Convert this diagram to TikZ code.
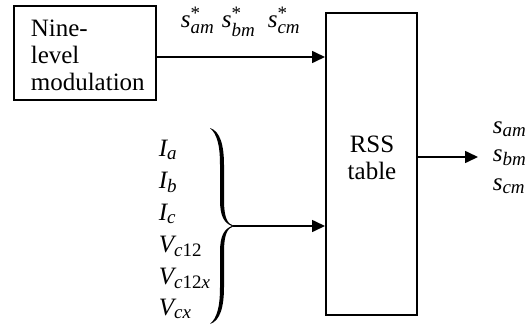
\documentclass[tikz,border=0pt]{standalone}
\usepackage{amsmath}
\usepackage{fontspec}
\setmainfont{Liberation Serif}
\usetikzlibrary{arrows.meta}
\DeclareMathSizes{12.5}{12.5}{9.5}{7.5}

\begin{document}
\begin{tikzpicture}[x=0.5pt,y=-0.5pt,line width=0.8pt,
  blk/.style={draw,line width=1pt,inner sep=0pt},
  txt/.style={inner sep=0pt,font=\fontsize{12.5}{13.5}\selectfont},
  sigarrow/.style={-{Triangle[length=6.5pt,width=6pt]}}]
\useasboundingbox (0,0) rectangle (528,326);
% ---- blocks ----
\node[blk,minimum width=71pt,minimum height=47pt] (mod) at (85,53) {};
\node[blk,minimum width=45.5pt,minimum height=151pt] (rss) at (371.5,164) {};
\node[txt,anchor=north west,align=left] (modtxt) at (30,19) {Nine-\\level\\modulation};
\node[txt,align=center] (rsstxt) at (372,158) {RSS\\table};
% ---- references from the modulator ----
\foreach \x/\p/\n in {180/a/sa, 221/b/sb, 267/c/sc}
  \node[txt,anchor=base west] (\n) at (\x,28) {$\textit{s}^{\text{*}}_{\textit{\p m}}$};
% ---- measured quantities ----
\foreach \y/\v/\s/\n in {
  156/I/{\textit{a}}/ia, 188/I/{\textit{b}}/ib, 220/I/{\textit{c}}/ic,
  252/V/{\textit{c}\textup{12}}/vc, 284/V/{\textit{c}\textup{12}\textit{x}}/vcx,
  315/V/{\textit{cx}}/vx%
}{
  \node[txt,anchor=base west] (\n) at (158,\y) {$\textit{\v}_{\s}$};
}
% ---- switching states ----
\foreach \y/\p/\n in {133/a/oa, 161/b/ob, 190/c/oc}
  \node[txt,anchor=base west] (\n) at (492,\y) {$\textit{s}_{\textit{\p m}}$};
% ---- brace ----
\fill (210,128) .. controls (220,131) and (224,145) .. (224,165)
  -- (224,200) .. controls (224,217) and (227,224) .. (234,226)
  .. controls (227,228) and (224,235) .. (224,252)
  -- (224,287) .. controls (224,307) and (220,321) .. (210,324)
  .. controls (217,318) and (220,307) .. (220,287)
  -- (220,252) .. controls (220,236) and (224,229) .. (232,226)
  .. controls (224,223) and (220,216) .. (220,200)
  -- (220,165) .. controls (220,145) and (217,134) .. (210,128) -- cycle;
% ---- connectors ----
\coordinate (cusp) at (233,226);
\coordinate (outtip) at (478,157);
\draw[sigarrow] ([yshift=-2pt]mod.east) -- ([yshift=-2pt]mod.east -| rss.west);
\draw[sigarrow] (cusp) -- (cusp -| rss.west);
\draw[sigarrow] (rss.east |- outtip) -- (outtip);
\end{tikzpicture}
\end{document}
